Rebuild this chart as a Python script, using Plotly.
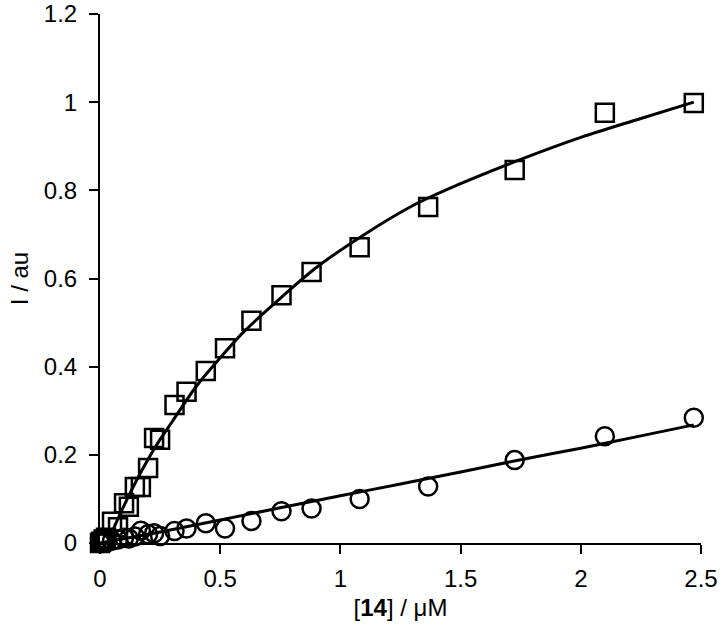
import plotly.graph_objects as go

# Titration concentrations [14] / µM
conc = [0, 0.005, 0.015, 0.025, 0.05, 0.075, 0.10, 0.12, 0.145, 0.17, 0.20, 0.225,
        0.25, 0.31, 0.36, 0.44, 0.52, 0.63, 0.755, 0.88, 1.08, 1.365, 1.725, 2.10, 2.47]

# Squares series (I / au)
sq_y = [0.0, 0.003, 0.008, 0.012, 0.048, 0.036, 0.090, 0.082, 0.127, 0.127, 0.170, 0.238,
        0.234, 0.313, 0.343, 0.390, 0.442, 0.504, 0.562, 0.615, 0.671, 0.762, 0.846, 0.976, 0.998]

# Circles series (I / au)
ci_y = [0.0, 0.0, 0.002, 0.004, 0.005, 0.008, 0.012, 0.010, 0.015, 0.028, 0.020, 0.022,
        0.016, 0.027, 0.033, 0.045, 0.033, 0.050, 0.072, 0.078, 0.100, 0.128, 0.188, 0.242, 0.284]

# Fitted curves
fit_sq_x = [0.03, 0.05, 0.1, 0.15, 0.2, 0.25, 0.3, 0.4, 0.5, 0.6, 0.75, 0.9, 1.1, 1.3, 1.5,
            1.75, 2.0, 2.25, 2.47]
fit_sq_y = [0.0, 0.025, 0.085, 0.14, 0.19, 0.235, 0.275, 0.355, 0.42, 0.48, 0.555, 0.625,
            0.70, 0.765, 0.815, 0.87, 0.92, 0.963, 1.0]

fit_ci_x = [0, 0.25, 0.5, 0.75, 1.0, 1.25, 1.5, 1.75, 2.0, 2.25, 2.47]
fit_ci_y = [0.0, 0.025, 0.052, 0.080, 0.107, 0.134, 0.161, 0.189, 0.215, 0.243, 0.268]

x_ticks = [0, 0.5, 1, 1.5, 2, 2.5]
x_tick_text = ["0", "0.5", "1", "1.5", "2", "2.5"]
y_ticks = [0, 0.2, 0.4, 0.6, 0.8, 1.0, 1.2]
y_tick_text = ["0", "0.2", "0.4", "0.6", "0.8", "1", "1.2"]

FONT = "Liberation Sans, Arial, sans-serif"
FS = 24

fig = go.Figure()
fig.add_trace(go.Scatter(x=conc, y=sq_y, mode="markers", name="squares",
                         marker=dict(symbol="square-open", size=18, color="black",
                                     line=dict(width=2.5, color="black")),
                         cliponaxis=False))
fig.add_trace(go.Scatter(x=conc, y=ci_y, mode="markers", name="circles",
                         marker=dict(symbol="circle-open", size=18, color="black",
                                     line=dict(width=2.5, color="black")),
                         cliponaxis=False))
fig.add_trace(go.Scatter(x=fit_sq_x, y=fit_sq_y, mode="lines", line_shape="spline",
                         line=dict(color="black", width=3), cliponaxis=False))
fig.add_trace(go.Scatter(x=fit_ci_x, y=fit_ci_y, mode="lines", line_shape="spline",
                         line=dict(color="black", width=3), cliponaxis=False))

axis_common = dict(showline=True, linecolor="black", linewidth=2, showgrid=False,
                   zeroline=False, ticks="outside", ticklen=9, tickwidth=2,
                   tickcolor="black", ticklabeloverflow="allow",
                   tickfont=dict(family=FONT, size=FS, color="black"))

fig.update_xaxes(range=[0, 2.5], tickvals=x_ticks, ticktext=x_tick_text,
                 title=dict(text="[<b>14</b>] / μM", standoff=8,
                            font=dict(family=FONT, size=FS, color="black")),
                 ticklabelstandoff=4, **axis_common)
fig.update_yaxes(range=[0, 1.2], tickvals=y_ticks, ticktext=y_tick_text,
                 title=dict(text="I / au", standoff=8,
                            font=dict(family=FONT, size=FS, color="black")),
                 ticklabelstandoff=7, **axis_common)

fig.update_layout(width=723, height=635, showlegend=False,
                  plot_bgcolor="white", paper_bgcolor="white",
                  margin=dict(l=100, r=22, t=14, b=92, autoexpand=False))

# remove the default 8 px page margin so the figure fills the window
fig.write_html("out.html", config={"displayModeBar": False},
               post_script="document.body.style.margin='0';")
